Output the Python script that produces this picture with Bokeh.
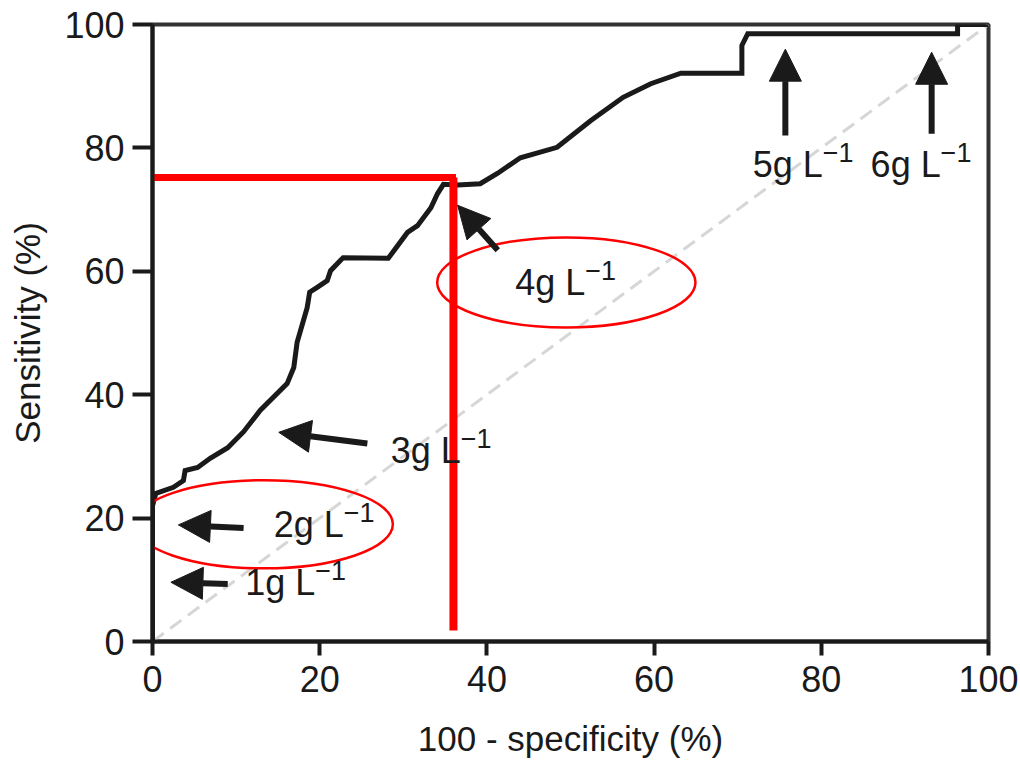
from bokeh.plotting import figure
from bokeh.models import Range1d, Arrow, NormalHead, FixedTicker
from bokeh.core.properties import value
from bokeh.embed import file_html
from bokeh.resources import INLINE

# ROC curve (100 - specificity, sensitivity), in %
fpr = [0, 0, 0.4, 2.5, 3.7, 3.9, 5.4, 6.9, 9.0, 10.9, 12.9, 16.1, 16.9, 17.3,
       18.5, 18.8, 19.7, 20.9, 21.3, 22.5, 22.8, 28.2, 30.5, 31.7, 33.3, 34.1,
       34.8, 36.5, 39.2, 41.3, 44.0, 48.4, 52.4, 56.3, 59.6, 63.2, 70.5, 70.5,
       71.2, 96.3, 96.3, 100]
tpr = [0, 22, 24.0, 25.0, 26.1, 27.7, 28.2, 29.7, 31.4, 34.0, 37.5, 41.8, 44.4, 48.5,
       54.1, 56.6, 57.4, 58.5, 60.1, 61.8, 62.2, 62.1, 66.3, 67.4, 70.3, 72.6,
       74.1, 74.0, 74.2, 75.9, 78.4, 80.1, 84.4, 88.2, 90.4, 92.1, 92.1, 96.6,
       98.5, 98.5, 100, 100]

# reference diagonal
diag_x = [0, 100]
diag_y = [0, 100]

# chosen cut-off (red lines)
cut_x = 36.0
cut_y = 75.2
cut_y_bottom = 1.8

# red ellipses
ell_x = [49.5, 13.3]
ell_y = [58.2, 19.0]
ell_w = [30.9, 30.9]
ell_h = [14.6, 14.3]

# arrows (tail -> tip)
arr_x0 = [9.0, 10.9, 25.7, 41.3, 75.7, 93.2]
arr_y0 = [9.3, 18.4, 32.1, 63.4, 82.0, 82.3]
arr_x1 = [2.2, 3.1, 15.1, 36.5, 75.7, 93.2]
arr_y1 = [9.6, 18.9, 33.9, 70.7, 96.0, 95.5]

# annotation labels (text + superscript)
lab_text = ["1g L", "2g L", "3g L", "4g L", "5g L", "6g L"]
sup_text = ["\u22121"] * 6
lab_x = [11.1, 14.5, 28.5, 43.4, 71.8, 85.9]
lab_y = [9.6, 19.0, 31.0, 58.2, 77.3, 77.3]

ticks = [0, 20, 40, 60, 80, 100]

FONT = "Liberation Sans"
INK = "#1a1a1a"
RED = "#ff0000"

p = figure(width=1020, height=763, output_backend="svg", toolbar_location=None,
           x_range=Range1d(0, 100), y_range=Range1d(0, 100),
           min_border_left=152, min_border_right=32, min_border_top=24,
           min_border_bottom=122, background_fill_color="white",
           border_fill_color="white")
p.grid.visible = False
p.outline_line_color = "#333333"
p.outline_line_width = 4

for ax in (p.xaxis[0], p.yaxis[0]):
    ax.ticker = FixedTicker(ticks=ticks)
    ax.minor_tick_line_color = None
    ax.axis_line_width = 4
    ax.axis_line_color = INK
    ax.major_tick_line_width = 4
    ax.major_tick_line_color = INK
    ax.major_tick_in = 0
    ax.major_label_text_font = FONT
    ax.major_label_text_font_size = "36px"
    ax.major_label_text_color = INK
    ax.axis_label_text_font = FONT
    ax.axis_label_text_font_size = "35px"
    ax.axis_label_text_font_style = "normal"
    ax.axis_label_text_color = INK

p.xaxis.axis_label = "100 - specificity (%)"
p.yaxis.axis_label = "Sensitivity (%)"
p.xaxis.major_tick_out = 14
p.xaxis.major_label_standoff = 10
p.xaxis.axis_label_standoff = 24
p.yaxis.major_tick_out = 20
p.yaxis.major_label_standoff = 8
p.yaxis.axis_label_standoff = 14

# diagonal
p.line(diag_x, diag_y, line_color="#d6d6d6", line_width=3, line_dash="14 8")

# ROC curve
p.line(fpr, tpr, line_color=INK, line_width=5, line_join="miter")

# red cut-off lines
p.line([0, cut_x + 0.3], [cut_y, cut_y], line_color=RED, line_width=7)
p.line([cut_x, cut_x], [cut_y, cut_y_bottom], line_color=RED, line_width=8)

# red ellipses
p.ellipse(x=ell_x, y=ell_y, width=ell_w, height=ell_h, fill_alpha=0,
          line_color=RED, line_width=2.5)

# arrows
for x0, y0, x1, y1 in zip(arr_x0, arr_y0, arr_x1, arr_y1):
    p.add_layout(Arrow(end=NormalHead(size=32, fill_color=INK, line_color=INK, line_width=1),
                       x_start=x0, y_start=y0, x_end=x1, y_end=y1,
                       line_color=INK, line_width=6))

# labels
p.text(x=lab_x, y=lab_y, text=lab_text, text_font=value(FONT),
       text_font_size="36px", text_baseline="middle", text_align="left",
       text_color=INK)
p.text(x=lab_x, y=lab_y, text=sup_text, text_font=value(FONT),
       text_font_size="27px", text_baseline="middle", text_align="left",
       text_color=INK, x_offset=70, y_offset=-12)

open("out.html", "w").write(file_html(p, INLINE))
